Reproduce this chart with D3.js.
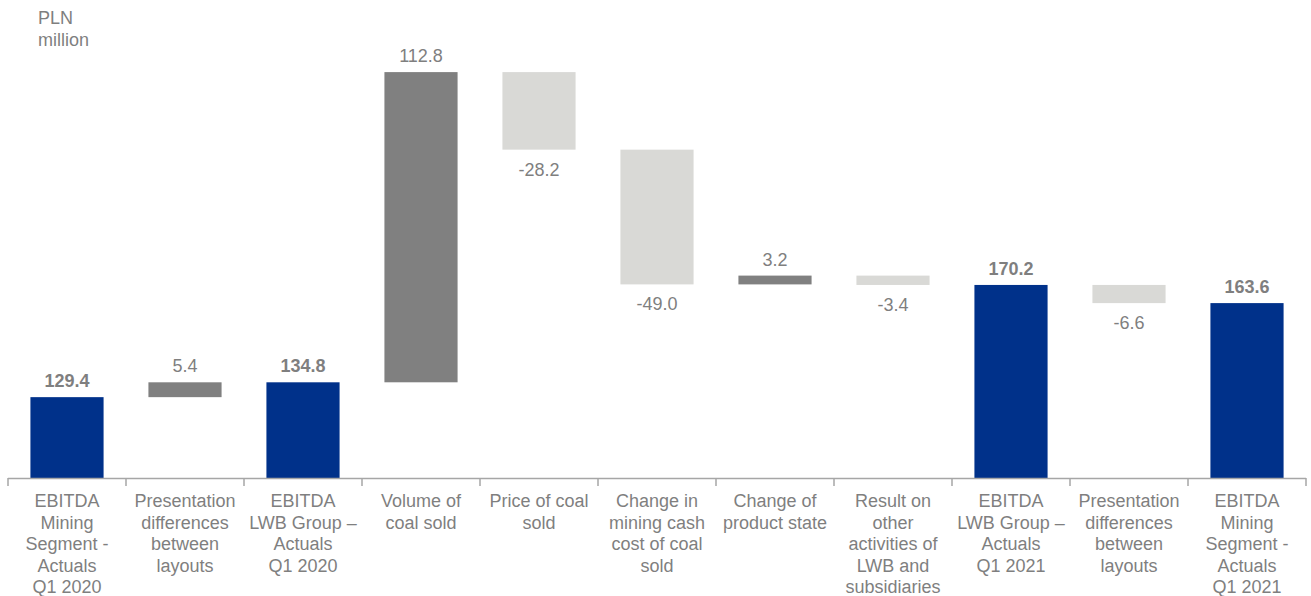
<!DOCTYPE html>
<html><head><meta charset="utf-8">
<script src="https://cdn.jsdelivr.net/npm/d3@7"></script>
<style>
body{margin:0;background:#fff;}
svg{display:block;font-family:"Liberation Sans",Arial,sans-serif;}
</style></head>
<body><svg id="c" width="1311" height="596"></svg>
<script>
const categories = [
  "EBITDA\nMining\nSegment -\nActuals\nQ1 2020",
  "Presentation\ndifferences\nbetween\nlayouts",
  "EBITDA\nLWB Group –\nActuals\nQ1 2020",
  "Volume of\ncoal sold",
  "Price of coal\nsold",
  "Change in\nmining cash\ncost of coal\nsold",
  "Change of\nproduct state",
  "Result on\nother\nactivities of\nLWB and\nsubsidiaries",
  "EBITDA\nLWB Group –\nActuals\nQ1 2021",
  "Presentation\ndifferences\nbetween\nlayouts",
  "EBITDA\nMining\nSegment -\nActuals\nQ1 2021"
];
const values = [129.4, 5.4, 134.8, 112.8, -28.2, -49.0, 3.2, -3.4, 170.2, -6.6, 163.6];
const kinds = ["total","delta","total","delta","delta","delta","delta","delta","total","delta","total"];
const unitLabel = ["PLN", "million"];
const yDomain = [100, 250];

const colors = {total:"#00318A", pos:"#808080", neg:"#D9D9D6", text:"#7F7F7F", axis:"#A6A6A6"};
const fmt = d3.formatLocale({decimal:".", thousands:",", grouping:[3], currency:["",""], minus:"-"}).format(".1f");

const svg = d3.select("#c");
const x = d3.scaleBand().domain(d3.range(categories.length)).range([8, 1306]).paddingInner(0.38).paddingOuter(0.19);
const y = d3.scaleLinear().domain(yDomain).range([478, 65.5]);

let run = 0;
const segs = values.map((v,i)=>{
  let lo, hi;
  if (kinds[i]==="total"){ run = v; lo = yDomain[0]; hi = v; }
  else { const start = run, end = run + v; run = end; lo = Math.min(start,end); hi = Math.max(start,end); }
  return {i, v, kind:kinds[i], lo, hi};
});

svg.selectAll("rect.bar").data(segs).enter().append("rect")
  .attr("x", d=>x(d.i)).attr("width", x.bandwidth())
  .attr("y", d=>y(d.hi)).attr("height", d=>y(d.lo)-y(d.hi))
  .attr("fill", d=>d.kind==="total"?colors.total:(d.v>=0?colors.pos:colors.neg));

svg.selectAll("text.val").data(segs).enter().append("text")
  .attr("x", d=>x(d.i)+x.bandwidth()/2)
  .attr("y", d=> (d.kind==="total"||d.v>=0) ? y(d.hi)-10 : y(d.lo)+26)
  .attr("text-anchor","middle")
  .attr("font-size", 18)
  .attr("font-weight", d=>d.kind==="total"?"bold":"normal")
  .attr("fill", colors.text)
  .text(d=>fmt(d.v));

const step = x.step();
const bounds = d3.range(categories.length+1).map(i=> i<categories.length ? x(i) - step*x.paddingInner()/2 : x(i-1)+x.bandwidth()+step*x.paddingInner()/2);
const ax = svg.append("g").attr("stroke", colors.axis).attr("stroke-width",1.5);
ax.append("line").attr("x1", bounds[0]).attr("x2", bounds[bounds.length-1]).attr("y1", y(yDomain[0])+0.5).attr("y2", y(yDomain[0])+0.5);
ax.selectAll("line.t").data(bounds).enter().append("line")
  .attr("x1", d=>d).attr("x2", d=>d).attr("y1", y(yDomain[0])).attr("y2", y(yDomain[0])+8);

const cl = svg.selectAll("text.cat").data(categories).enter().append("text")
  .attr("text-anchor","middle").attr("font-size",18).attr("fill", colors.text)
  .attr("transform",(d,i)=>`translate(${x(i)+x.bandwidth()/2},507)`);
cl.selectAll("tspan").data(d=>d.split("\n")).enter().append("tspan")
  .attr("x",0).attr("y",(d,j)=>j*21.6).text(d=>d);

svg.append("text").attr("font-size",18).attr("fill",colors.text)
  .selectAll("tspan").data(unitLabel).enter().append("tspan")
  .attr("x",38).attr("y",(d,j)=>24+j*22).text(d=>d);
</script></body></html>
